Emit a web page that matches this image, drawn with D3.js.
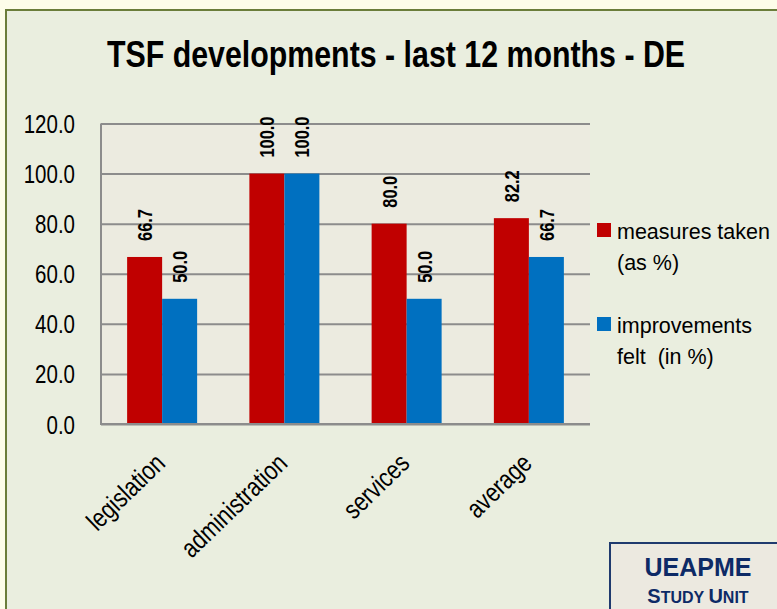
<!DOCTYPE html>
<html>
<head>
<meta charset="utf-8">
<script src="https://cdn.jsdelivr.net/npm/d3@7"></script>
<style>
body{margin:0;background:#fdfde9;}
text{font-family:"Liberation Sans",Arial,sans-serif;}
</style>
</head>
<body>
<div id="chart"></div>
<script>
// data
var categories=["legislation","administration","services","average"];
var measuresTaken=[66.7,100.0,80.0,82.2];
var improvementsFelt=[50.0,100.0,50.0,66.7];
var seriesLabels=[["measures taken","(as %)"],["improvements","felt  (in %)"]];
var seriesColors=["#c00000","#0070c0"];
var yTicks=[0,20,40,60,80,100,120];
var titleText="TSF developments - last 12 months - DE";

var W=777,H=609;
var plot={left:101,right:590,top:123.5,bottom:424};
var narrow=0.82; //squeeze to imitate a narrow font

var svg=d3.select("#chart").append("svg")
          .attr("width",W)
          .attr("height",H);

// outer panel
svg.append("rect")
   .attr("x",6).attr("y",10)
   .attr("width",W+20).attr("height",H+20)
   .attr("fill","#eaeedf")
   .attr("stroke","#6b7d3a")
   .attr("stroke-width",2);

// title
svg.append("text")
   .attr("transform","translate(396,66.5) scale("+narrow+",1)")
   .attr("text-anchor","middle")
   .attr("font-size",37)
   .attr("font-weight","bold")
   .attr("fill","#000")
   .text(titleText);

var y=d3.scaleLinear()
        .domain([0,120])
        .range([plot.bottom,plot.top]);
var x=d3.scaleBand()
        .domain(categories)
        .range([plot.left,plot.right])
        .paddingInner(0.4274)
        .paddingOuter(0.2137);
var x1=d3.scaleBand()
         .domain([0,1])
         .range([0,x.bandwidth()]);

// plot area
svg.append("rect")
   .attr("x",plot.left).attr("y",plot.top)
   .attr("width",plot.right-plot.left)
   .attr("height",plot.bottom-plot.top)
   .attr("fill","#ecebe0");

// gridlines + y labels
var yAxis=d3.axisLeft(y)
            .tickValues(yTicks)
            .tickSize(-(plot.right-plot.left))
            .tickFormat(d3.format(".1f"));
var gy=svg.append("g")
          .attr("transform","translate("+plot.left+",0)")
          .call(yAxis);
gy.select(".domain").remove();
gy.selectAll(".tick line")
  .attr("stroke","#8c8c8c")
  .attr("stroke-width",2);
gy.selectAll(".tick text")
  .attr("x",-26/narrow)
  .attr("dy","0.36em")
  .attr("transform","scale("+narrow+",1)")
  .attr("font-size",25)
  .attr("fill","#000")
  .attr("font-family","Liberation Sans, Arial, sans-serif");

// left axis line
svg.append("line")
   .attr("x1",plot.left).attr("x2",plot.left)
   .attr("y1",plot.top).attr("y2",plot.bottom)
   .attr("stroke","#8c8c8c")
   .attr("stroke-width",2);

var series=[measuresTaken,improvementsFelt];
var rows=[];
categories.forEach(function(c,i){
	series.forEach(function(s,j){
		rows.push({cat:c,s:j,v:s[i]});
	});
});

svg.append("g").selectAll("rect")
   .data(rows)
   .enter()
   .append("rect")
   .attr("x",function(d){return x(d.cat)+x1(d.s);})
   .attr("y",function(d){return y(d.v);})
   .attr("width",x1.bandwidth())
   .attr("height",function(d){return y(0)-y(d.v);})
   .attr("fill",function(d){return seriesColors[d.s];});

// bottom axis line over the bars
svg.append("line")
   .attr("x1",plot.left-1).attr("x2",plot.right)
   .attr("y1",plot.bottom).attr("y2",plot.bottom)
   .attr("stroke","#8c8c8c")
   .attr("stroke-width",2);

// value labels, rotated
svg.append("g").selectAll("text")
   .data(rows)
   .enter()
   .append("text")
   .attr("transform",function(d){
   	var cx=x(d.cat)+x1(d.s)+x1.bandwidth()/2+7.5;
   	return "translate("+cx+","+(y(d.v)-16)+") rotate(-90) scale("+narrow+",1)";
   })
   .attr("font-size",20)
   .attr("font-weight","bold")
   .attr("fill","#000")
   .text(function(d){return d.v.toFixed(1);});

// category labels
svg.append("g").selectAll("text")
   .data(categories)
   .enter()
   .append("text")
   .attr("transform",function(d){
   	return "translate("+(x(d)+x.bandwidth()/2+4.5)+",465) rotate(-44) scale("+narrow+",1)";
   })
   .attr("text-anchor","end")
   .attr("font-size",26.5)
   .attr("fill","#000")
   .text(function(d){return d;});

// legend
var leg=svg.append("g").selectAll("g")
           .data(seriesLabels)
           .enter()
           .append("g")
           .attr("transform",function(d,i){return "translate(597,"+(223+i*94)+")";});
leg.append("rect")
   .attr("width",14).attr("height",14)
   .attr("fill",function(d,i){return seriesColors[i];});
leg.selectAll("text")
   .data(function(d){return d;})
   .enter()
   .append("text")
   .attr("x",20)
   .attr("y",function(d,i){return 16+i*31;})
   .attr("font-size",21.5)
   .attr("fill","#000")
   .style("white-space","pre")
   .text(function(d){return d;});

// UEAPME box
svg.append("rect")
   .attr("x",610).attr("y",543)
   .attr("width",200).attr("height",100)
   .attr("fill","#ece9e0")
   .attr("stroke","#1f3a6e")
   .attr("stroke-width",2);
svg.append("text")
   .attr("x",698).attr("y",576)
   .attr("text-anchor","middle")
   .attr("font-size",25)
   .attr("font-weight","bold")
   .attr("fill","#0d2a66")
   .text("UEAPME");
var su=svg.append("text")
          .attr("x",698).attr("y",603)
          .attr("text-anchor","middle")
          .attr("font-weight","bold")
          .attr("fill","#0d2a66");
su.append("tspan").attr("font-size",20).text("S");
su.append("tspan").attr("font-size",16).text("TUDY ");
su.append("tspan").attr("font-size",20).text("U");
su.append("tspan").attr("font-size",16).text("NIT");
</script>
</body>
</html>
